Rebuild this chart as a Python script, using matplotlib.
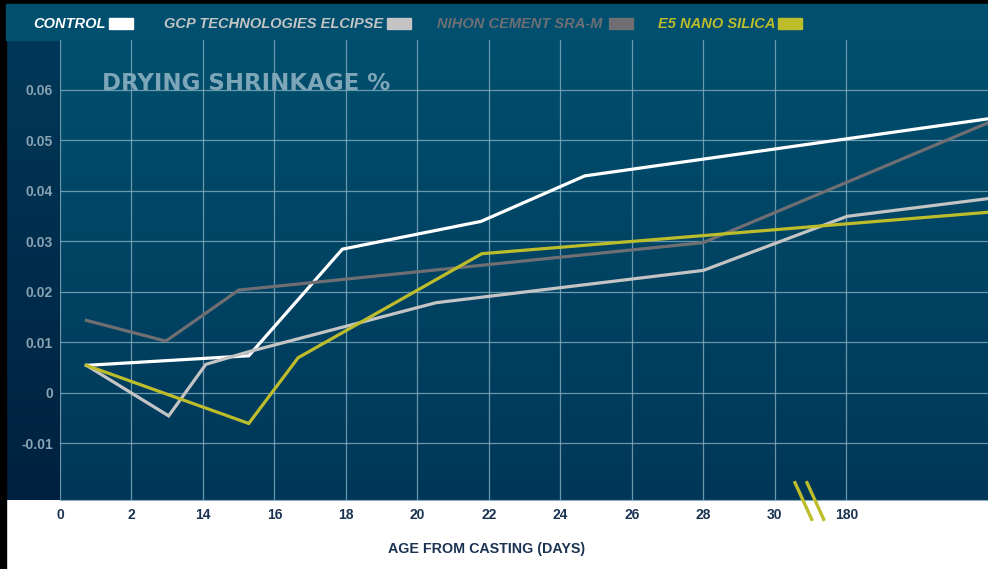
import numpy as np
import matplotlib.pyplot as plt
from matplotlib.colors import LinearSegmentedColormap
from matplotlib.patches import Rectangle
from matplotlib.lines import Line2D

plt.rcParams['font.family'] = ['Liberation Sans', 'DejaVu Sans']

# x positions are category slots; labels shown under slots 0..11
tick_labels = ['0', '2', '14', '16', '18', '20', '22', '24', '26', '28', '30', '180']
y_ticks = [-0.01, 0, 0.01, 0.02, 0.03, 0.04, 0.05, 0.06]
y_tick_labels = ['-0.01', '0', '0.01', '0.02', '0.03', '0.04', '0.05', '0.06']

control_x = [0.37, 2.64, 3.95, 5.89, 7.34, 12.98]
control_y = [0.0054, 0.0073, 0.0284, 0.0339, 0.0429, 0.0542]

gcp_x = [0.37, 1.52, 2.04, 2.64, 5.26, 9.00, 11.01, 12.98]
gcp_y = [0.0054, -0.0046, 0.0056, 0.0081, 0.0178, 0.0242, 0.0349, 0.0384]

nihon_x = [0.37, 1.48, 2.50, 9.00, 12.98]
nihon_y = [0.0143, 0.0102, 0.0203, 0.0297, 0.0534]

e5_x = [0.37, 2.64, 3.33, 5.90, 12.98]
e5_y = [0.0054, -0.0061, 0.0069, 0.0275, 0.0357]

names = ['CONTROL', 'GCP TECHNOLOGIES ELCIPSE', 'NIHON CEMENT SRA-M', 'E5 NANO SILICA']
colors = ['#ffffff', '#c4c4c4', '#6f6f73', '#bdbd2c']

W, H = 988, 569
fig = plt.figure(figsize=(W / 100, H / 100), dpi=100, facecolor='white')

# background layer in pixel coords
bg = fig.add_axes([0, 0, 1, 1], zorder=-1)
bg.set_xlim(0, W)
bg.set_ylim(H, 0)
bg.axis('off')
bg.add_patch(Rectangle((0, 0), 6, H, color='black'))
bg.add_patch(Rectangle((0, 0), W, 4, color='black'))
bg.add_patch(Rectangle((6, 4), W - 6, 36, color='#004f6f'))
col_cmap = LinearSegmentedColormap.from_list('col', ['#003859', '#00213f'])
bg.imshow(np.linspace(0, 1, 256).reshape(-1, 1), cmap=col_cmap, aspect='auto',
          extent=(6, 60, 500, 40))
bg.set_xlim(0, W)
bg.set_ylim(H, 0)

ax = fig.add_axes([60 / W, 1 - 500 / H, 1 - 60 / W, 460 / H])
ax.patch.set_visible(False)
plot_cmap = LinearSegmentedColormap.from_list('plot', ['#003758', '#004f6e'])
ax.imshow(np.linspace(0, 1, 256).reshape(-1, 1), cmap=plot_cmap, aspect='auto',
          origin='lower', extent=(0, 1, 0, 1), transform=ax.transAxes, zorder=0)

series = [(control_x, control_y), (gcp_x, gcp_y), (nihon_x, nihon_y), (e5_x, e5_y)]
for (xs, ys), c in zip(series, colors):
    ax.plot(xs, ys, color=c, lw=2.3, zorder=3, solid_joinstyle='miter')

ax.set_xlim(0.05, 12.98)
ax.set_ylim(-0.02125, 0.0698)
ax.set_xticks(range(len(tick_labels)))
ax.set_xticklabels(tick_labels, fontsize=10, fontweight='bold', color='#1b3352')
ax.set_yticks(y_ticks)
ax.set_yticklabels(y_tick_labels, fontsize=10, fontweight='bold', color='#8aa3b3')
ax.tick_params(length=0)
ax.tick_params(axis='x', pad=6)
ax.tick_params(axis='y', pad=5)
ax.grid(True, color='#86adc0', lw=0.9, alpha=0.8, zorder=1)
for s in ax.spines.values():
    s.set_visible(False)
ax.spines['bottom'].set_visible(True)
ax.spines['bottom'].set_color('#86adc0')
ax.spines['bottom'].set_linewidth(0.8)
for gl in ax.get_xgridlines() + ax.get_ygridlines():
    gl.set_zorder(1)

ax.set_xlabel('AGE FROM CASTING (DAYS)', fontsize=10.3, fontweight='bold',
              color='#1b3352')
ax.xaxis.set_label_coords((487 - 60) / (W - 60), -(542 - 500) / 460)

fig.text(102 / W, 1 - 84 / H, 'DRYING SHRINKAGE %', fontsize=16.5, fontweight='bold',
         family='DejaVu Sans', color='#7ea6b9', va='center', ha='left')

# legend along the top band
text_x = [33, 164, 437, 658]
box_x = [109, 387, 609, 778]
for name, c, tx, bx in zip(names, colors, text_x, box_x):
    fig.text(tx / W, 1 - 23.5 / H, name, fontsize=10.5, fontweight='bold',
             style='italic', color=c, va='center', ha='left')
    fig.add_artist(Rectangle((bx / W, 1 - 29 / H), 24 / W, 11 / H, color=c,
                             transform=fig.transFigure))

# axis break marks
for dx in (0, 12):
    fig.add_artist(Line2D([(795 + dx) / W, (811.7 + dx) / W],
                          [1 - 482.7 / H, 1 - 519.3 / H], color=colors[3],
                          lw=2.4, transform=fig.transFigure))

fig.savefig('out.png', dpi=100, facecolor=fig.get_facecolor())
